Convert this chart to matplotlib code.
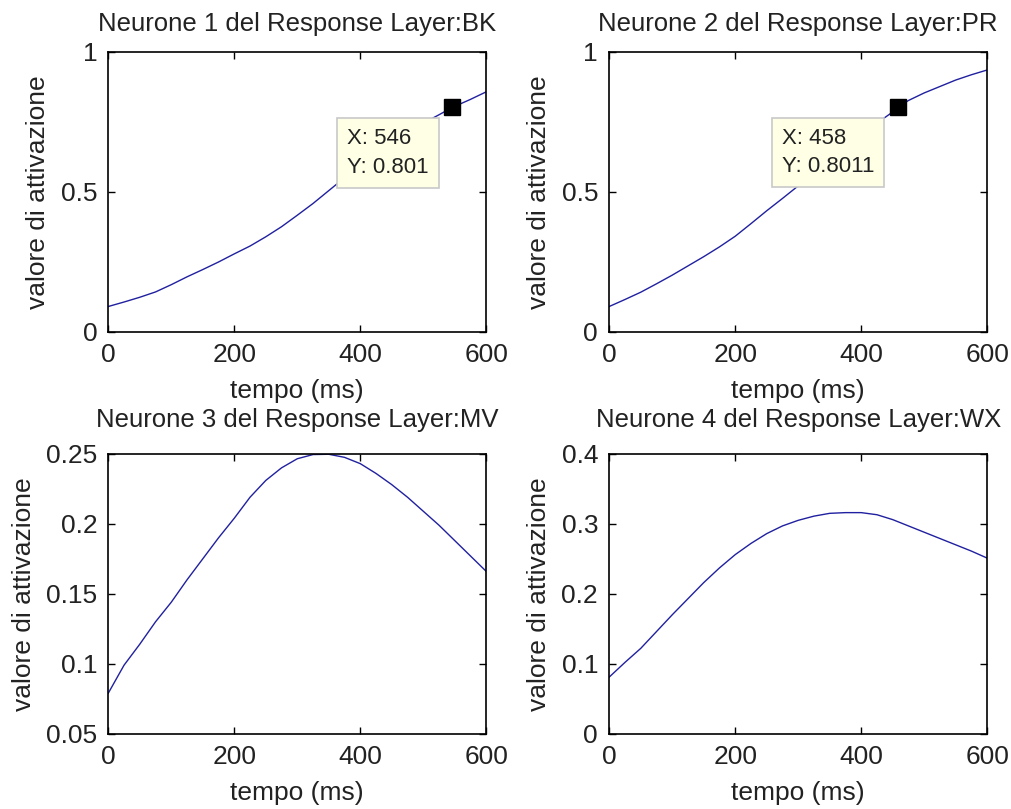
import numpy as np
import matplotlib
matplotlib.use("Agg")
import matplotlib.pyplot as plt
from matplotlib.ticker import FuncFormatter

plt.rcParams["font.family"] = ["Liberation Sans", "DejaVu Sans"]

# valori (tempo in ms)
t = [0, 25, 50, 75, 100, 125, 150, 175, 200, 225, 250, 275, 300, 325, 350,
     375, 400, 425, 450, 475, 500, 525, 550, 575, 600]

bk_t = [0, 25, 50, 75, 100, 125, 150, 175, 200, 225, 250, 275, 300, 325, 350,
        375, 400, 425, 450, 475, 500, 525, 546, 575, 600]
bk = [0.090, 0.106, 0.123, 0.142, 0.168, 0.196, 0.222, 0.249, 0.278, 0.306,
      0.339, 0.375, 0.416, 0.458, 0.504, 0.550, 0.594, 0.636, 0.676, 0.713,
      0.745, 0.775, 0.801, 0.830, 0.857]

pr_t = [0, 25, 50, 75, 100, 125, 150, 175, 200, 225, 250, 275, 300, 325, 350,
        375, 400, 425, 450, 458, 475, 500, 525, 550, 575, 600]
pr = [0.090, 0.115, 0.141, 0.171, 0.202, 0.235, 0.268, 0.303, 0.341, 0.386,
      0.432, 0.476, 0.521, 0.568, 0.615, 0.660, 0.703, 0.745, 0.785, 0.8011,
      0.826, 0.853, 0.876, 0.899, 0.918, 0.935]

mv = [0.079, 0.099, 0.114, 0.130, 0.144, 0.160, 0.175, 0.190, 0.204, 0.219,
      0.231, 0.240, 0.2465, 0.2495, 0.2497, 0.2475, 0.243, 0.236, 0.228,
      0.219, 0.209, 0.199, 0.188, 0.177, 0.166]

wx = [0.081, 0.102, 0.122, 0.146, 0.170, 0.193, 0.216, 0.237, 0.256, 0.272,
      0.286, 0.297, 0.305, 0.311, 0.315, 0.316, 0.316, 0.313, 0.306, 0.297,
      0.288, 0.279, 0.270, 0.261, 0.251]

titoli = ["Neurone 1 del Response Layer:BK", "Neurone 2 del Response Layer:PR",
          "Neurone 3 del Response Layer:MV", "Neurone 4 del Response Layer:WX"]
serie_t = [bk_t, pr_t, t, t]
serie_y = [bk, pr, mv, wx]
ylims = [(0, 1), (0, 1), (0.05, 0.25), (0, 0.4)]
yticks = [[0, 0.5, 1], [0, 0.5, 1],
          [0.05, 0.1, 0.15, 0.2, 0.25], [0, 0.1, 0.2, 0.3, 0.4]]
# data tip (x, y) nei primi due grafici
tips = [(546, 0.801, "0.801"), (458, 0.8011, "0.8011"), None, None]

fig = plt.figure(figsize=(10.12, 8.09), dpi=100, facecolor="white")
lefts = [0.107, 0.602, 0.107, 0.602]
bottoms = [0.590, 0.590, 0.093, 0.093]
title_pad = [15, 15, 19, 19]
w, h = 0.3735, 0.346

for i in range(4):
    ax = fig.add_axes([lefts[i], bottoms[i], w, h])
    ax.plot(serie_t[i], serie_y[i], color="#2020a0", lw=1.0, zorder=2)
    ax.set_xlim(0, 600)
    ax.set_ylim(*ylims[i])
    ax.set_xticks([0, 200, 400, 600])
    ax.set_yticks(yticks[i])
    ax.yaxis.set_major_formatter(FuncFormatter(lambda v, p: "%g" % v))
    ax.tick_params(direction="in", length=5, width=1, top=True, right=True,
                   labelsize=19, pad=8, color="black", labelcolor="#222222")
    for s in ax.spines.values():
        s.set_linewidth(1.2)
    ax.set_title(titoli[i], fontsize=18.5, pad=title_pad[i], color="#222222")
    ax.set_xlabel("tempo (ms)", fontsize=19, labelpad=8.5, color="#222222")
    ax.set_ylabel("valore di attivazione", fontsize=19, labelpad=7.5,
                  color="#222222")
    if tips[i] is not None:
        x0, y0, ys = tips[i]
        ax.plot([x0], [y0], "s", color="black", ms=11, zorder=4)
        ax.annotate("X: %d\nY: %s" % (x0, ys), xy=(x0, y0),
                    xytext=(-17, -15), textcoords="offset points",
                    ha="right", va="top", multialignment="left",
                    fontsize=16, linespacing=1.45, color="#222222",
                    bbox=dict(boxstyle="square,pad=0.45", fc="#ffffe6",
                              ec="#c8c8c8", lw=1.2),
                    zorder=5)

fig.savefig("out.png", dpi=100, facecolor="white")
